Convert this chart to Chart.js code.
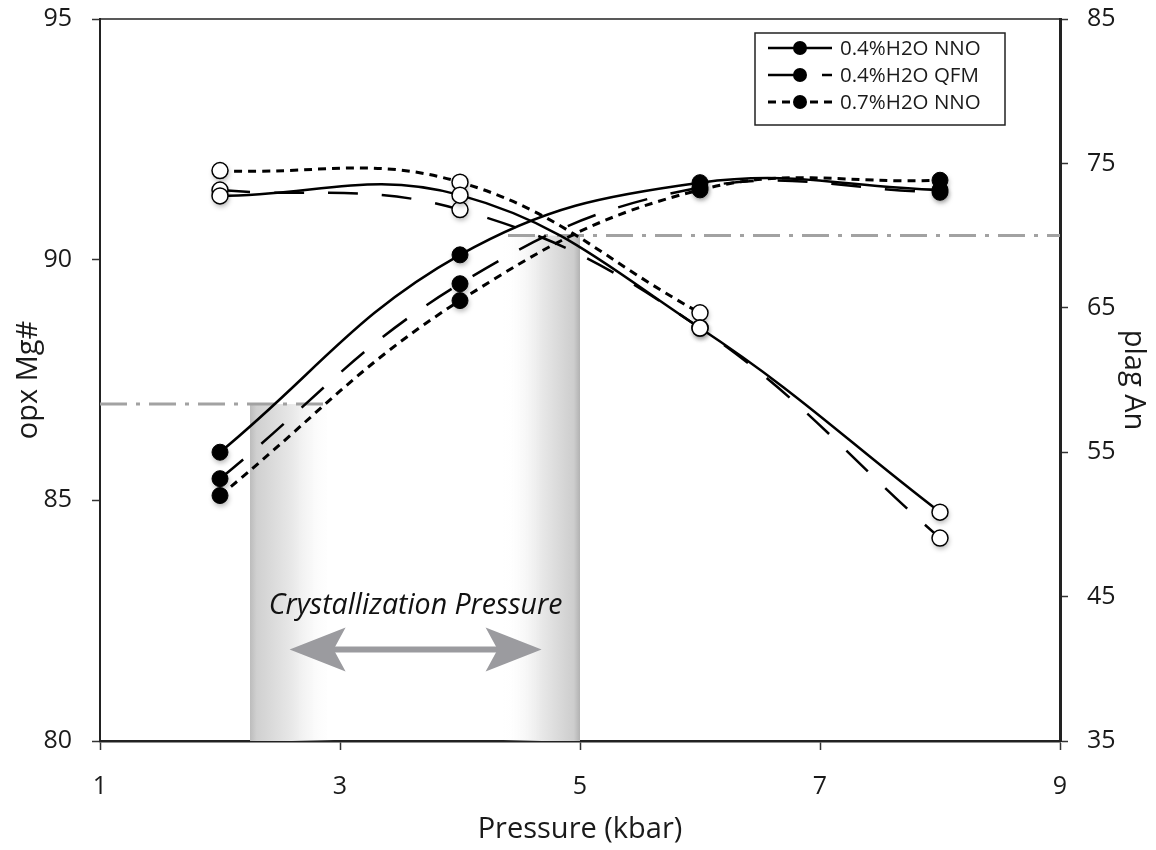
<!DOCTYPE html>
<html>
<head>
<meta charset="utf-8">
<title>opx Mg# and plag An vs pressure</title>
<script src="https://cdn.jsdelivr.net/npm/chart.js@4.4.1/dist/chart.umd.min.js"></script>
<style>
  html, body { margin: 0; padding: 0; background: #ffffff; }
  canvas { display: block; }
</style>
</head>
<body>
<canvas id="chart" width="1156" height="850"></canvas>
<script>
// ---- data ----
const pressureKbar = [2, 4, 6, 8];
const pressureTicks = [1, 3, 5, 7, 9];
const opxTicks = [80, 85, 90, 95];
const plagTicks = [35, 45, 55, 65, 75, 85];

const seriesLabels = ['0.4%H2O NNO', '0.4%H2O QFM', '0.7%H2O NNO'];

// opx Mg# (left axis, filled symbols)
const opxMgNNO04 = [86.0, 90.1, 91.6, 91.45];
const opxMgQFM04 = [85.45, 89.5, 91.5, 91.4];
const opxMgNNO07 = [85.1, 89.15, 91.45, 91.65];

// plag An (right axis, open symbols)
const plagAnNNO04 = [72.75, 72.8, 63.6, 50.85];
const plagAnQFM04 = [73.15, 71.8, 63.6, 49.05];
const plagAnNNO07 = [74.5, 73.7, 64.65];

// reference compositions (dash-dot lines) and the pressure window they bound
const opxMgLimit = 87;          // opx Mg#, left axis
const plagAnLimit = 70;         // plag An, right axis
const opxLimitSpan = [1, 2.89];
const plagLimitSpan = [4.4, 9];
const pressureWindow = [2.25, 5];
const windowFade = [2.95, 4.36];
const arrowSpan = [2.58, 4.68];
const arrowLevel = 81.9;        // in opx Mg# units
const windowLabel = 'Crystallization Pressure';
const windowLabelAt = [3.63, 82.64];

// ---- styling ----
const FONT = "'Open Sans', 'DejaVu Sans', sans-serif";
const INK = '#1a1a1a';
const dashes = [[], [30, 24], [8, 6]];
const widths = [2.5, 2.5, 3];

function pts(ys) {
  return ys.map((v, i) => ({ x: pressureKbar[i], y: v }));
}

function series(i, ys, axis, filled) {
  return {
    label: seriesLabels[i],
    data: pts(ys),
    yAxisID: axis,
    borderColor: '#000',
    borderWidth: widths[i],
    borderDash: dashes[i],
    backgroundColor: filled ? '#000' : '#fff',
    pointBackgroundColor: filled ? '#000' : '#fff',
    pointBorderColor: '#000',
    pointBorderWidth: filled ? 1 : 1.5,
    pointRadius: 8,
    pointHoverRadius: 8,
    tension: 0.4,
    fill: false,
    order: filled ? 2 : 1
  };
}

const datasets = [
  series(0, opxMgNNO04, 'y', true),
  series(1, opxMgQFM04, 'y', true),
  series(2, opxMgNNO07, 'y', true),
  series(0, plagAnNNO04, 'y1', false),
  series(1, plagAnQFM04, 'y1', false),
  series(2, plagAnNNO07, 'y1', false)
];

// soft drop shadow under each marker
const markerShadow = {
  id: 'markerShadow',
  beforeDatasetDraw(chart, args) {
    const { ctx } = chart;
    const meta = args.meta;
    ctx.save();
    ctx.filter = 'blur(2.5px)';
    ctx.fillStyle = 'rgba(0,0,0,0.28)';
    for (const p of meta.data) {
      const r = p.options.radius;
      ctx.beginPath();
      ctx.arc(p.x + 1, p.y + 3, r, 0, Math.PI * 2);
      ctx.fill();
    }
    ctx.restore();
  }
};

// shaded window, dash-dot limits, arrow and its caption
const annotations = {
  id: 'annotations',
  beforeDatasetsDraw(chart) {
    const { ctx, chartArea: a, scales: { x, y, y1 } } = chart;
    ctx.save();

    // left shaded strip (fades to the right)
    const lx0 = x.getPixelForValue(pressureWindow[0]);
    const lx1 = x.getPixelForValue(windowFade[0]);
    const lTop = y.getPixelForValue(opxMgLimit);
    let g = ctx.createLinearGradient(lx0, 0, lx1, 0);
    g.addColorStop(0, 'rgb(188,188,188)');
    g.addColorStop(0.08, 'rgb(208,208,208)');
    g.addColorStop(0.5, 'rgb(232,232,232)');
    g.addColorStop(1, 'rgba(255,255,255,0)');
    ctx.fillStyle = g;
    ctx.fillRect(lx0, lTop, lx1 - lx0, a.bottom - lTop);

    // right shaded strip (fades to the left)
    const rx0 = x.getPixelForValue(windowFade[1]);
    const rx1 = x.getPixelForValue(pressureWindow[1]);
    const rTop = y1.getPixelForValue(plagAnLimit);
    g = ctx.createLinearGradient(rx0, 0, rx1, 0);
    g.addColorStop(0, 'rgba(255,255,255,0)');
    g.addColorStop(0.5, 'rgb(232,232,232)');
    g.addColorStop(0.92, 'rgb(205,205,205)');
    g.addColorStop(1, 'rgb(178,178,178)');
    ctx.fillStyle = g;
    ctx.fillRect(rx0, rTop, rx1 - rx0, a.bottom - rTop);

    // dash-dot limit lines
    ctx.strokeStyle = '#a2a2a2';
    ctx.lineWidth = 3;
    ctx.setLineDash([27, 9, 4, 9]);
    ctx.beginPath();
    ctx.moveTo(x.getPixelForValue(opxLimitSpan[0]), lTop);
    ctx.lineTo(x.getPixelForValue(opxLimitSpan[1]), lTop);
    ctx.stroke();
    ctx.beginPath();
    ctx.moveTo(x.getPixelForValue(plagLimitSpan[0]), rTop);
    ctx.lineTo(x.getPixelForValue(plagLimitSpan[1]), rTop);
    ctx.stroke();
    ctx.setLineDash([]);

    // double-headed arrow
    const ax0 = x.getPixelForValue(arrowSpan[0]);
    const ax1 = x.getPixelForValue(arrowSpan[1]);
    const ay = y.getPixelForValue(arrowLevel);
    const headLen = 56, headHalf = 22, notch = 44;
    ctx.fillStyle = '#9b9b9f';
    ctx.strokeStyle = '#9b9b9f';
    ctx.lineWidth = 6;
    ctx.beginPath();
    ctx.moveTo(ax0 + notch - 2, ay);
    ctx.lineTo(ax1 - notch + 2, ay);
    ctx.stroke();
    ctx.beginPath();
    ctx.moveTo(ax0, ay);
    ctx.lineTo(ax0 + headLen, ay - headHalf);
    ctx.lineTo(ax0 + notch, ay);
    ctx.lineTo(ax0 + headLen, ay + headHalf);
    ctx.closePath();
    ctx.fill();
    ctx.beginPath();
    ctx.moveTo(ax1, ay);
    ctx.lineTo(ax1 - headLen, ay - headHalf);
    ctx.lineTo(ax1 - notch, ay);
    ctx.lineTo(ax1 - headLen, ay + headHalf);
    ctx.closePath();
    ctx.fill();

    // caption
    ctx.fillStyle = '#111';
    ctx.font = "italic 28.5px " + FONT;
    ctx.textAlign = 'center';
    ctx.textBaseline = 'alphabetic';
    ctx.fillText(windowLabel, x.getPixelForValue(windowLabelAt[0]), y.getPixelForValue(windowLabelAt[1]));

    ctx.restore();
  },
  afterDraw(chart) {
    const { ctx, chartArea: a } = chart;
    ctx.save();

    // top frame line
    ctx.strokeStyle = '#222';
    ctx.lineWidth = 1.5;
    ctx.beginPath();
    ctx.moveTo(a.left, a.top);
    ctx.lineTo(a.right, a.top);
    ctx.stroke();

    // legend box
    const bw = 250, bh = 92;
    const bx = a.right - 55 - bw;
    const by = a.top + 14;
    ctx.fillStyle = '#fff';
    ctx.fillRect(bx, by, bw, bh);
    ctx.lineWidth = 1.5;
    ctx.strokeStyle = '#222';
    ctx.strokeRect(bx, by, bw, bh);

    ctx.font = "20.5px " + FONT;
    ctx.textAlign = 'left';
    ctx.textBaseline = 'middle';
    for (let i = 0; i < seriesLabels.length; i++) {
      const ry = by + 15 + i * 27;
      ctx.strokeStyle = '#000';
      ctx.lineWidth = widths[i];
      ctx.setLineDash(dashes[i]);
      ctx.beginPath();
      ctx.moveTo(bx + 13, ry);
      ctx.lineTo(bx + 77, ry);
      ctx.stroke();
      ctx.setLineDash([]);
      ctx.fillStyle = '#000';
      ctx.beginPath();
      ctx.arc(bx + 45, ry, 7, 0, Math.PI * 2);
      ctx.fill();
      ctx.fillStyle = INK;
      ctx.fillText(seriesLabels[i], bx + 85, ry + 1);
    }
    ctx.restore();
  }
};

const tickFont = { family: FONT, size: 25 };
const titleFont = { family: FONT, size: 29 };
const gridOpts = { drawOnChartArea: false, drawTicks: true, tickLength: 8, color: '#333', tickWidth: 1.5 };

function noEdgePadding(s) {
  s.paddingTop = 0;
  s.paddingBottom = 0;
  s.paddingLeft = 0;
  s.paddingRight = 0;
}

new Chart(document.getElementById('chart'), {
  type: 'line',
  data: { datasets },
  plugins: [markerShadow, annotations],
  options: {
    responsive: false,
    animation: false,
    events: [],
    layout: { padding: { top: 19, left: 0, right: 0, bottom: 0 } },
    plugins: { legend: { display: false }, tooltip: { enabled: false } },
    scales: {
      x: {
        type: 'linear',
        position: 'bottom',
        min: 1, max: 9,
        afterBuildTicks(s) { s.ticks = pressureTicks.map(v => ({ value: v })); },
        afterFit(s) { s.height = 109; noEdgePadding(s); },
        ticks: { font: tickFont, color: INK, padding: 22, maxRotation: 0 },
        grid: { ...gridOpts, tickLength: 9 },
        border: { display: true, color: '#222', width: 2.5 },
        title: { display: true, text: 'Pressure (kbar)', font: titleFont, color: INK, padding: { top: 0, bottom: 3 } }
      },
      y: {
        type: 'linear',
        position: 'left',
        min: 80, max: 95,
        afterBuildTicks(s) { s.ticks = opxTicks.map(v => ({ value: v })); },
        afterFit(s) { s.width = 100; noEdgePadding(s); },
        ticks: { font: tickFont, color: INK, padding: 20 },
        grid: gridOpts,
        border: { display: true, color: '#222', width: 2 },
        title: { display: true, text: 'opx Mg#', font: titleFont, color: INK, padding: { top: 11, bottom: 0 } }
      },
      y1: {
        type: 'linear',
        position: 'right',
        min: 35, max: 85,
        afterBuildTicks(s) { s.ticks = plagTicks.map(v => ({ value: v })); },
        afterFit(s) { s.width = 96; noEdgePadding(s); },
        ticks: { font: tickFont, color: INK, padding: 19 },
        grid: gridOpts,
        border: { display: true, color: '#222', width: 3 },
        title: { display: true, text: 'plag An', font: titleFont, color: INK, padding: { top: 5, bottom: 0 } }
      }
    }
  }
});
</script>
</body>
</html>
